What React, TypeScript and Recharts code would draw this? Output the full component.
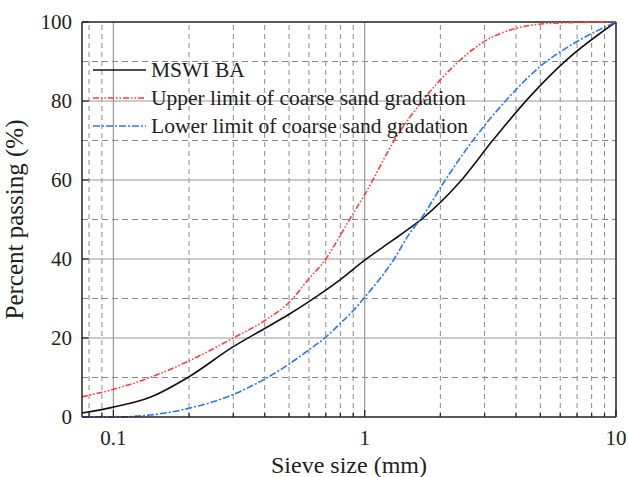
import React from 'react';
import { LineChart, Line, XAxis, YAxis, ReferenceLine } from 'recharts';

// sieve size (mm) / percent passing
const mswiSize = [0.075, 0.1, 0.14, 0.2, 0.3, 0.4, 0.5, 0.6, 0.7, 0.8, 1, 1.29, 1.51, 1.7, 2.39, 3.24, 4.54, 6.36, 10];
const mswiPass = [1, 2.5, 5, 10.2, 17.8, 22.4, 26, 29.2, 32.1, 34.8, 39.7, 44.7, 47.8, 50.3, 59.5, 70.1, 81.1, 90.4, 100];

const upperSize = [0.075, 0.1, 0.14, 0.2, 0.3, 0.4, 0.5, 0.6, 0.7, 0.8, 0.87, 1, 1.34, 1.71, 2.32, 3.05, 4.01, 5.63, 10];
const upperPass = [5.1, 7, 10, 14.2, 20, 24.4, 29, 35, 40, 46, 50, 56.3, 71, 80.3, 89.5, 95.4, 98.4, 99.7, 100];

const lowerSize = [0.075, 0.1, 0.14, 0.2, 0.3, 0.4, 0.5, 0.6, 0.7, 0.8, 0.9, 1, 1.3, 1.51, 1.7, 2.05, 2.7, 3.67, 4.98, 6.97, 10];
const lowerPass = [0, 0, 0.5, 2.2, 5.7, 9.6, 13.4, 17, 20.2, 23.7, 26.9, 30.3, 39.7, 46.5, 50.8, 59.1, 70.1, 80.3, 88.7, 95, 100];

const xTicks = [0.1, 1, 10];
const xMinor = [0.08, 0.09, 0.2, 0.3, 0.4, 0.5, 0.6, 0.7, 0.8, 0.9, 2, 3, 4, 5, 6, 7, 8, 9];
const yTicks = [0, 20, 40, 60, 80, 100];
const yMinor = [10, 30, 50, 70, 90];

const toRows = (xs: number[], ys: number[]) => xs.map((x, i) => ({ x, y: ys[i] }));

const series = [
  { name: 'MSWI BA', data: toRows(mswiSize, mswiPass), color: '#111111', dash: undefined },
  { name: 'Upper limit of coarse sand gradation', data: toRows(upperSize, upperPass), color: '#ff3c3c', dash: '6 2 1.5 2 1.5 2' },
  { name: 'Lower limit of coarse sand gradation', data: toRows(lowerSize, lowerPass), color: '#2a78f0', dash: '7 2 2 2' },
];

const FONT = '"Liberation Serif", serif';

const XTick = (props: any) => {
  const { x, y, payload } = props;
  return (
    <text x={x} y={y + 20} textAnchor="middle" fontSize={21} fontFamily={FONT} fill="#222">
      {payload.value}
    </text>
  );
};

const YTick = (props: any) => {
  const { x, y, payload } = props;
  return (
    <text x={x - 2} y={y + 7} textAnchor="end" fontSize={21} fontFamily={FONT} fill="#222">
      {payload.value}
    </text>
  );
};

// legend drawn over the plot, top-left
const LegendBox = () => (
  <div style={{ position: 'absolute', left: 93, top: 56, fontFamily: FONT, fontSize: 21.5, color: '#222', lineHeight: '28px' }}>
    {series.map((s) => (
      <div key={s.name} style={{ display: 'flex', alignItems: 'center', height: 28 }}>
        <svg width={58} height={10}>
          <line x1={0} y1={5} x2={53} y2={5} stroke={s.color} strokeWidth={1.6} strokeDasharray={s.dash} />
        </svg>
        <span>{s.name}</span>
      </div>
    ))}
  </div>
);

export default function App() {
  return (
    <div style={{ position: 'relative', width: 628, height: 477, background: '#fff' }}>
      <style>{'body{margin:0}'}</style>
      <LineChart width={628} height={477} margin={{ top: 22, right: 12, bottom: 0, left: 0 }}>
        <XAxis
          dataKey="x"
          type="number"
          scale="log"
          domain={[0.075, 10]}
          ticks={xTicks}
          allowDataOverflow
          height={60}
          tickLine={false}
          axisLine={{ stroke: '#222', strokeWidth: 1.5 }}
          tick={<XTick />}
          label={{ value: 'Sieve size (mm)', position: 'insideBottom', offset: 4, fontSize: 24, fontFamily: FONT, fill: '#222' }}
        />
        <YAxis
          dataKey="y"
          type="number"
          domain={[0, 100]}
          ticks={yTicks}
          width={82}
          tickLine={false}
          axisLine={{ stroke: '#222', strokeWidth: 1.5 }}
          tick={<YTick />}
          label={{ value: 'Percent passing (%)', angle: -90, position: 'insideLeft', offset: 14, fontSize: 25, fontFamily: FONT, fill: '#222', style: { textAnchor: 'middle' } }}
        />

        {xMinor.map((v) => (
          <ReferenceLine key={'vx' + v} x={v} stroke="#8a8a8a" strokeDasharray="5 4" strokeWidth={1} />
        ))}
        {yMinor.map((v) => (
          <ReferenceLine key={'hy' + v} y={v} stroke="#8a8a8a" strokeDasharray="6 4" strokeWidth={1} />
        ))}
        {[0.1, 1].map((v) => (
          <ReferenceLine key={'mx' + v} x={v} stroke="#999" strokeWidth={1.2} />
        ))}
        {[20, 40, 60, 80].map((v) => (
          <ReferenceLine key={'my' + v} y={v} stroke="#999" strokeWidth={1.2} />
        ))}

        {/* inward tick marks */}
        {xMinor.map((v) => (
          <ReferenceLine key={'tx' + v} segment={[{ x: v, y: 0 }, { x: v, y: 1 }]} stroke="#222" strokeWidth={1.2} />
        ))}
        {xTicks.map((v) => (
          <ReferenceLine key={'TX' + v} segment={[{ x: v, y: 0 }, { x: v, y: 1.8 }]} stroke="#222" strokeWidth={1.2} />
        ))}
        {yTicks.map((v) => (
          <ReferenceLine key={'TY' + v} segment={[{ x: 0.075, y: v }, { x: 0.0798, y: v }]} stroke="#222" strokeWidth={1.2} />
        ))}

        {/* frame */}
        <ReferenceLine y={100} stroke="#222" strokeWidth={1.5} />
        <ReferenceLine x={10} stroke="#222" strokeWidth={1.5} />

        {series.map((s) => (
          <Line
            key={s.name}
            data={s.data}
            dataKey="y"
            name={s.name}
            type="monotone"
            stroke={s.color}
            strokeWidth={1.6}
            strokeDasharray={s.dash}
            dot={false}
            isAnimationActive={false}
          />
        ))}
      </LineChart>
      <LegendBox />
    </div>
  );
}
